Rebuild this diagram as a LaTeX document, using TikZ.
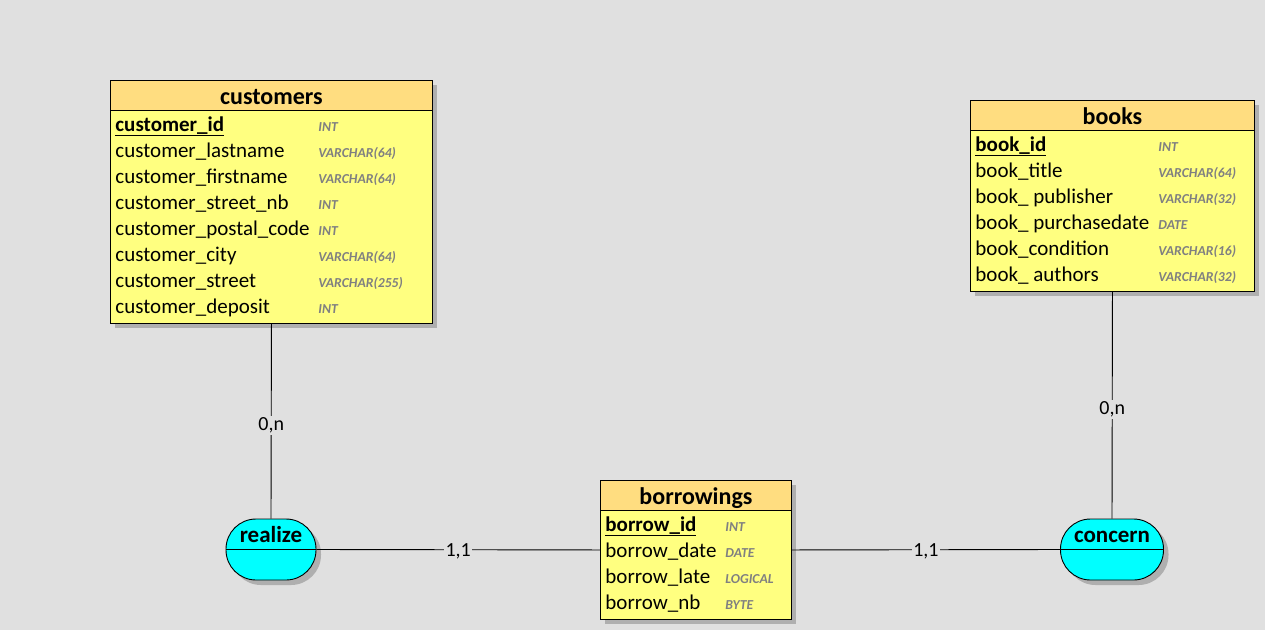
\documentclass[tikz,border=0pt]{standalone}
\usepackage{fontspec}
\setmainfont{Carlito}
\usetikzlibrary{positioning, shadows}
\definecolor{canvas}{RGB}{224,224,224}
\definecolor{headfill}{RGB}{255,221,128}
\definecolor{bodyfill}{RGB}{255,255,128}
\definecolor{assocfill}{RGB}{0,255,255}
\definecolor{typegray}{RGB}{128,128,128}
\definecolor{shade}{RGB}{175,175,175}

\begin{document}
\begin{tikzpicture}[
  x=1pt, y=-1pt, line width=0.9pt,
  entity/.style={draw, fill=bodyfill, anchor=north west, inner sep=0pt, drop shadow={shadow xshift=5pt, shadow yshift=-5pt, fill=shade, opacity=1}},
  header/.style={draw, fill=headfill, anchor=north west, inner sep=0pt, minimum height=30pt, text height=18pt, text depth=0pt, font=\fontsize{24}{28}\selectfont\bfseries},
  field/.style={anchor=base west, inner sep=0pt, font=\fontsize{21}{25}\selectfont},
  keyfield/.style={field, font=\fontsize{21}{25}\selectfont\bfseries},
  dtype/.style={anchor=base west, inner sep=0pt, text=typegray, font=\fontsize{13.7}{16}\selectfont\bfseries\itshape},
  assoc/.style={draw, fill=assocfill, rounded corners=30pt, minimum height=61pt, inner sep=0pt, drop shadow={shadow xshift=5pt, shadow yshift=-5pt, fill=shade, opacity=1}},
  assoctext/.style={anchor=base, inner sep=0pt, font=\fontsize{23}{27}\selectfont\bfseries},
  card/.style={fill=canvas, inner sep=1.5pt, font=\fontsize{20}{24}\selectfont}
]
\fill[canvas] (0,0) rectangle (1265,630);
\useasboundingbox (0,0) rectangle (1265,630);

% customers
\node[entity, minimum width=322pt, minimum height=243pt] (customers) at (110,80) {};
\node[header, minimum width=322pt] (customers-h) at (110,80) {customers};
\node[keyfield] (customers-k) at (115,131) {\underline{customer\_id}};
\node[dtype] at (318,131) {INT};
\foreach \f/\t [count=\i] in {lastname/VARCHAR(64), firstname/VARCHAR(64), street\_nb/INT, postal\_code/INT, city/VARCHAR(64), street/VARCHAR(255), deposit/INT} {
  \node[field] (customers-\i) at (115,131+26*\i) {customer\_\f};
  \node[dtype] at (318,131+26*\i) {\t};
}

% books
\node[entity, minimum width=284pt, minimum height=191pt] (books) at (970,100) {};
\node[header, minimum width=284pt] (books-h) at (970,100) {books};
\node[keyfield] (books-k) at (975,151) {\underline{book\_id}};
\node[dtype] at (1158,151) {INT};
\foreach \f/\t [count=\i] in {book\_title/VARCHAR(64), book\_ publisher/VARCHAR(32), book\_ purchasedate/DATE, book\_condition/VARCHAR(16), book\_ authors/VARCHAR(32)} {
  \node[field] (books-\i) at (975,151+26*\i) {\f};
  \node[dtype] at (1158,151+26*\i) {\t};
}

% borrowings
\node[entity, minimum width=191pt, minimum height=139pt] (borrowings) at (600,480) {};
\node[header, minimum width=191pt] (borrowings-h) at (600,480) {borrowings};
\node[keyfield] (borrowings-k) at (605,531) {\underline{borrow\_id}};
\node[dtype] at (725,531) {INT};
\foreach \f/\t [count=\i] in {date/DATE, late/LOGICAL, nb/BYTE} {
  \node[field] (borrowings-\i) at (605,531+26*\i) {borrow\_\f};
  \node[dtype] at (725,531+26*\i) {\t};
}

% associations
\node[assoc, minimum width=90pt] (realize) at (271,549.5) {};
\draw (realize.west) -- (realize.east);
\node[assoctext] (realize-t) at (271,542) {realize};
\node[assoc, minimum width=103pt] (concern) at (1112,549.5) {};
\draw (concern.west) -- (concern.east);
\node[assoctext] (concern-t) at (1112,542) {concern};

\draw (customers.south) -- node[card, yshift=-4pt] {0,n} (realize.north);
\draw (realize.east) -- node[card, yshift=-2pt] {1,1} (borrowings.west);
\draw (borrowings.east) -- node[card, yshift=-2pt] {1,1} (concern.west);
\draw (books.south) -- node[card, yshift=-4pt] {0,n} (concern.north);
\end{tikzpicture}
\end{document}
